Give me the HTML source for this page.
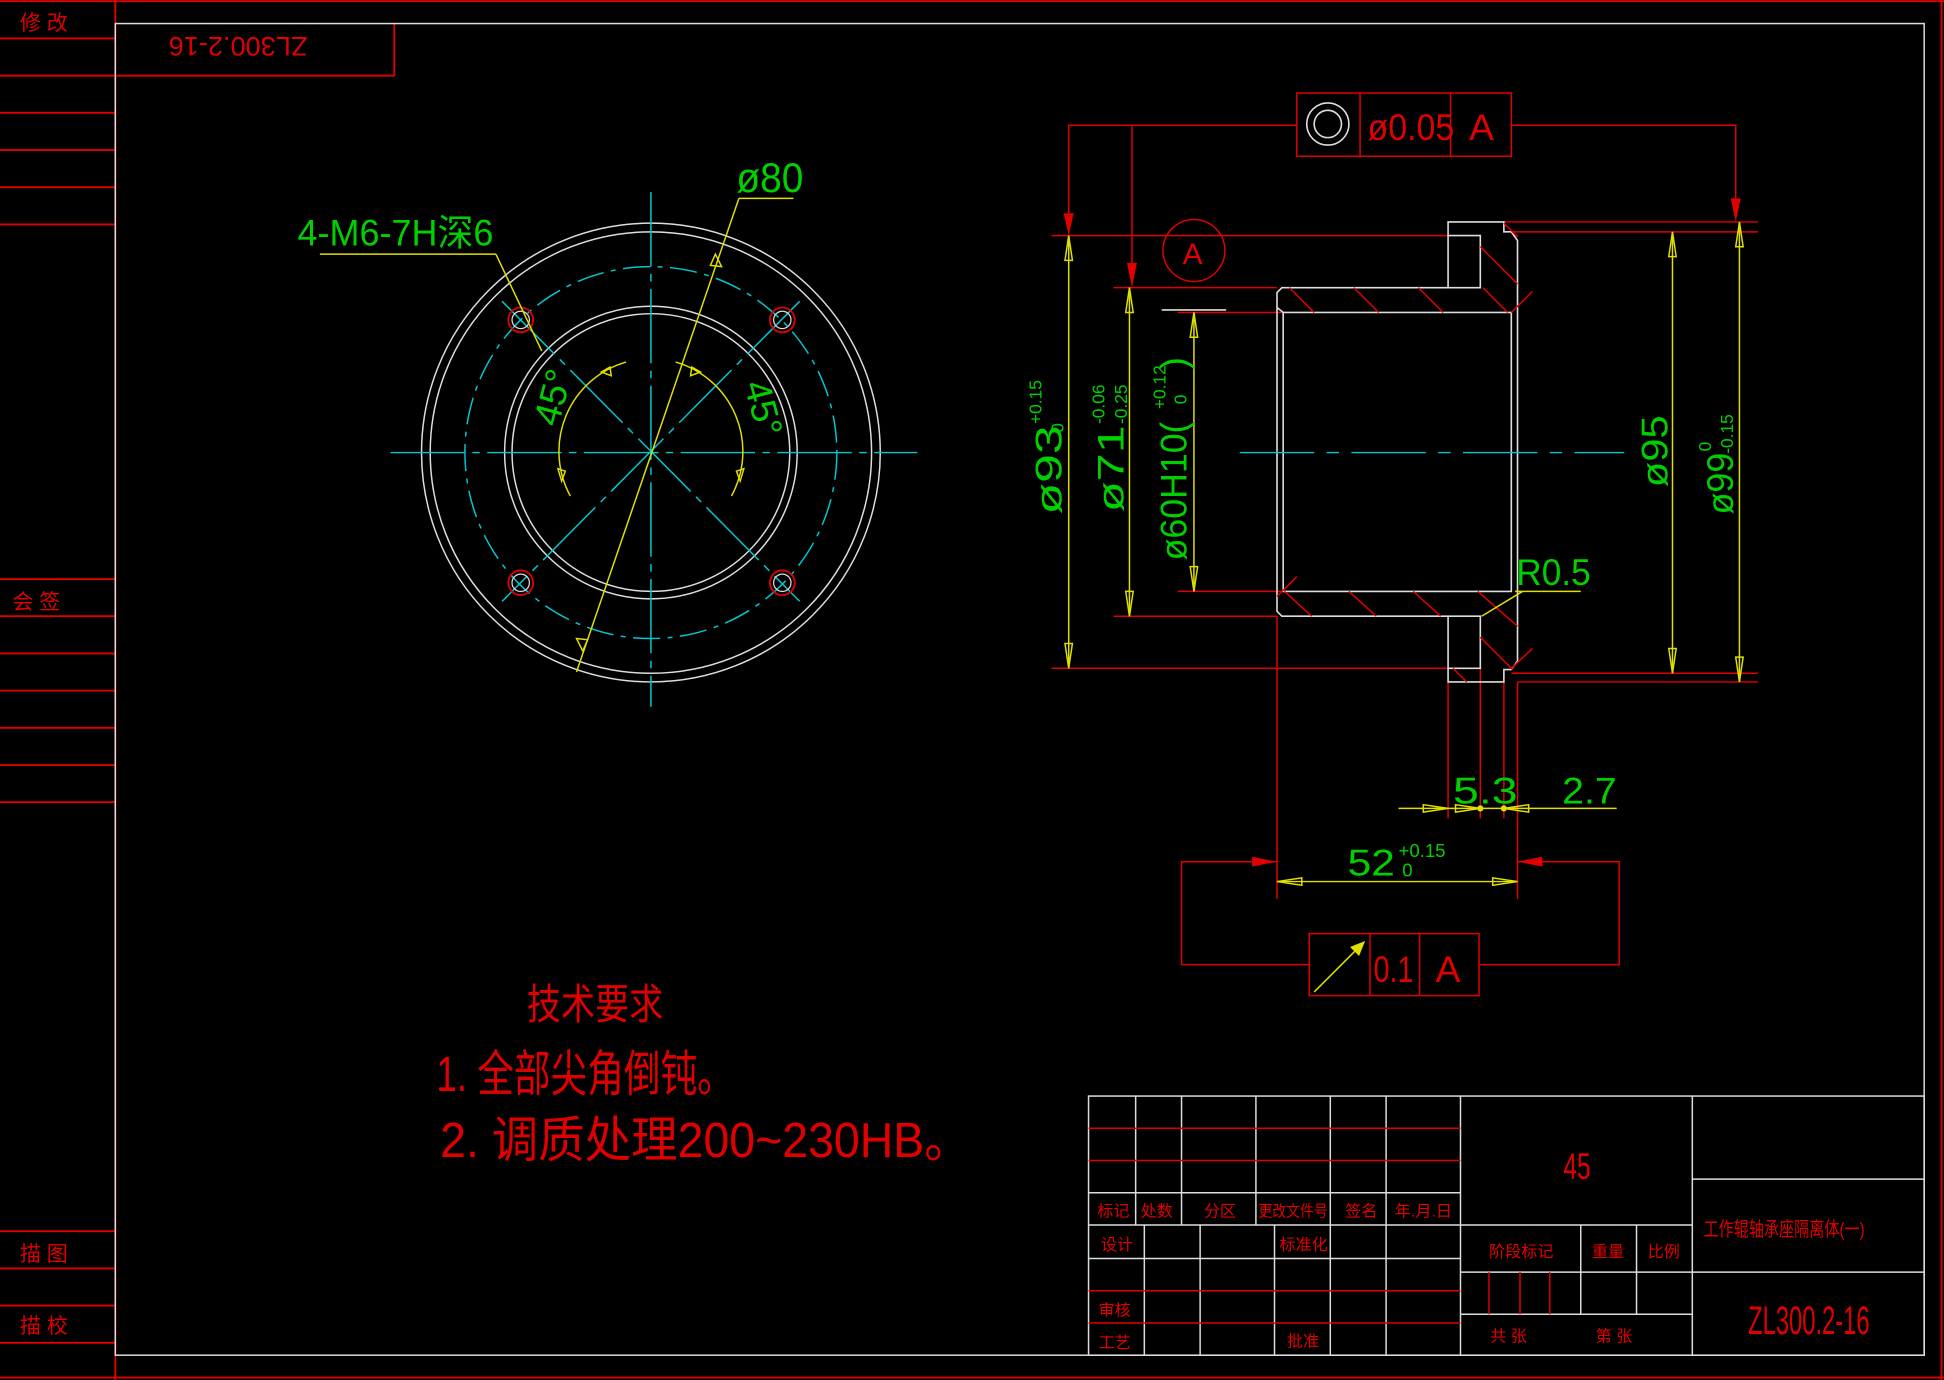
<!DOCTYPE html>
<html><head><meta charset="utf-8"><style>
html,body{margin:0;padding:0;background:#000;}
svg{display:block;}
text{font-family:"Liberation Sans","Noto Sans CJK SC",sans-serif;}
</style></head><body>
<svg width="1944" height="1380" viewBox="0 0 1568 1113" preserveAspectRatio="none" xmlns="http://www.w3.org/2000/svg">
<rect width="1568" height="1113" fill="#000"/>
<g stroke="#e00000" stroke-width="1.5" fill="none">
<line x1="0" y1="1" x2="1568" y2="1"/>
<line x1="0" y1="1111" x2="1568" y2="1111"/>
<line x1="93" y1="0" x2="93" y2="1113"/>
<line x1="1566" y1="0" x2="1566" y2="1113"/>
<line x1="0" y1="31" x2="93" y2="31"/><line x1="0" y1="61" x2="93" y2="61"/>
<line x1="0" y1="91" x2="93" y2="91"/><line x1="0" y1="121" x2="93" y2="121"/>
<line x1="0" y1="151" x2="93" y2="151"/><line x1="0" y1="181" x2="93" y2="181"/>
<line x1="0" y1="467" x2="93" y2="467"/><line x1="0" y1="497" x2="93" y2="497"/>
<line x1="0" y1="527" x2="93" y2="527"/><line x1="0" y1="557" x2="93" y2="557"/>
<line x1="0" y1="587" x2="93" y2="587"/><line x1="0" y1="617" x2="93" y2="617"/>
<line x1="0" y1="647" x2="93" y2="647"/>
<line x1="0" y1="993" x2="93" y2="993"/><line x1="0" y1="1023" x2="93" y2="1023"/>
<line x1="0" y1="1053" x2="93" y2="1053"/><line x1="0" y1="1083" x2="93" y2="1083"/>
<polyline points="93,61 318,61 318,19"/>
</g>
<g fill="#e00000" font-size="17">
<text x="16" y="24">修  改</text>
<text x="10" y="491">会  签</text>
<text x="16" y="1017">描  图</text>
<text x="16" y="1075">描  校</text>
<text transform="translate(192,30) rotate(180)" font-size="22" text-anchor="middle" textLength="112" lengthAdjust="spacingAndGlyphs">ZL300.2-16</text>
</g>
<rect x="93" y="19" width="1459" height="1074" fill="none" stroke="#ddd" stroke-width="1.2"/>

<g fill="none" stroke="#ddd" stroke-width="1.2">
<circle cx="525" cy="365" r="185"/><circle cx="525" cy="365" r="178"/>
<circle cx="525" cy="365" r="118"/><circle cx="525" cy="365" r="112"/>
</g>
<g fill="none" stroke="#00c8d0" stroke-width="1.2">
<circle cx="525" cy="365" r="150" stroke-dasharray="22,6,4,6"/>
<line x1="315" y1="365" x2="740" y2="365" stroke-dasharray="60,6,6,6"/>
<line x1="525" y1="155" x2="525" y2="570" stroke-dasharray="60,6,6,6"/>
<line x1="405" y1="243" x2="645" y2="485" stroke-dasharray="60,6,6,6"/>
<line x1="645" y1="243" x2="405" y2="485" stroke-dasharray="60,6,6,6"/>
</g>
<g fill="none">
<circle cx="420" cy="258" r="10" stroke="#e00000" stroke-width="1.5"/><circle cx="420" cy="258" r="7" stroke="#ddd"/>
<circle cx="631" cy="258" r="10" stroke="#e00000" stroke-width="1.5"/><circle cx="631" cy="258" r="7" stroke="#ddd"/>
<circle cx="420" cy="470" r="10" stroke="#e00000" stroke-width="1.5"/><circle cx="420" cy="470" r="7" stroke="#ddd"/>
<circle cx="631" cy="470" r="10" stroke="#e00000" stroke-width="1.5"/><circle cx="631" cy="470" r="7" stroke="#ddd"/>
</g>
<g fill="none" stroke="#e0e000" stroke-width="1.2">
<line x1="465" y1="542" x2="596" y2="160"/><line x1="596" y1="160" x2="640" y2="160"/>
<line x1="258" y1="205" x2="400" y2="205"/><line x1="400" y1="205" x2="437" y2="283"/>
<path d="M 460 400 A 75 75 0 0 1 505 292"/>
<path d="M 590 400 A 75 75 0 0 0 545 292"/>
<polygon points="577,205 582,215 573,214"/>
<polygon points="470,525 465,515 474,516"/>
<polygon points="450,378 456,380 453,388"/>
<polygon points="600,378 594,380 597,388"/>
<polygon points="485,300 492,296 493,303"/>
<polygon points="565,300 558,296 557,303"/>
</g>
<g fill="#00d000" font-size="34">
<text x="594" y="155" textLength="54" lengthAdjust="spacingAndGlyphs">ø80</text>
<text x="240" y="198" font-size="30" textLength="158" lengthAdjust="spacingAndGlyphs">4-M6-7H深6</text>
<text transform="translate(450,345) rotate(-75)" font-size="30">45°</text>
<text transform="translate(600,310) rotate(75)" font-size="30">45°</text>
</g>

<g stroke="#e00000" stroke-width="1.2" fill="none">
<polyline points="862,185 862,101 1046,101"/>
<polyline points="1219,101 1400,101 1400,175"/>
<line x1="913" y1="101" x2="913" y2="225"/>
<line x1="848" y1="190" x2="1168" y2="190"/>
<line x1="898" y1="232" x2="1030" y2="232"/>
<line x1="950" y1="252" x2="1035" y2="252"/>
<line x1="950" y1="477" x2="1035" y2="477"/>
<line x1="898" y1="497" x2="1030" y2="497"/>
<line x1="848" y1="539" x2="1168" y2="539"/>
<line x1="1213" y1="179" x2="1418" y2="179"/>
<line x1="1219" y1="187" x2="1418" y2="187"/>
<line x1="1219" y1="543" x2="1418" y2="543"/>
<line x1="1224" y1="550" x2="1418" y2="550"/>
<line x1="1030" y1="497" x2="1030" y2="725"/>
<line x1="1168" y1="550" x2="1168" y2="660"/>
<line x1="1194" y1="539" x2="1194" y2="660"/>
<line x1="1213" y1="550" x2="1213" y2="660"/>
<line x1="1224" y1="550" x2="1224" y2="725"/>
<polyline points="1030,695 953,695 953,778 1056,778"/>
<polyline points="1224,695 1306,695 1306,778 1193,778"/>
<circle cx="963" cy="202" r="25"/>
<rect x="1046" y="75" width="173" height="51"/>
<line x1="1097" y1="75" x2="1097" y2="126"/><line x1="1170" y1="75" x2="1170" y2="126"/>
<rect x="1056" y="753" width="137" height="50"/>
<line x1="1105" y1="753" x2="1105" y2="803"/><line x1="1145" y1="753" x2="1145" y2="803"/>
</g>
<g fill="#e00000">
<polygon points="858,172 866,172 862,190"/>
<polygon points="909,212 917,212 913,232"/>
<polygon points="1396,160 1404,160 1400,179"/>
<polygon points="1010,691 1010,699 1030,695"/>
<polygon points="1244,691 1244,699 1224,695"/>
</g>
<g fill="none" stroke="#ddd" stroke-width="1.3">
<circle cx="1071" cy="100" r="17"/><circle cx="1071" cy="100" r="11"/>
<line x1="937" y1="250" x2="989" y2="250"/>
<polyline points="1168,232 1168,179 1213,179 1213,187 1219,187 1224,194 1224,533 1219,540 1213,540 1213,550 1168,550 1168,497"/>
<polyline points="1168,232 1034,232 1030,236 1030,493 1034,497 1168,497"/>
<rect x="1035" y="252" width="184" height="225"/>
<polyline points="1168,190 1194,190 1194,232 1168,232"/>
<polyline points="1168,497 1194,497 1194,539 1168,539"/>
<line x1="1030" y1="248" x2="1035" y2="252"/>
</g>
<g stroke="#e00000" stroke-width="1.2">
<line x1="1040" y1="232" x2="1060" y2="252"/><line x1="1092" y1="232" x2="1112" y2="252"/>
<line x1="1144" y1="232" x2="1164" y2="252"/><line x1="1196" y1="232" x2="1216" y2="252"/>
<line x1="1213" y1="180" x2="1224" y2="191"/><line x1="1194" y1="199" x2="1224" y2="229"/>
<line x1="1219" y1="252" x2="1236" y2="235"/>
<line x1="1030" y1="481" x2="1046" y2="465"/>
<line x1="1036" y1="477" x2="1058" y2="497"/><line x1="1088" y1="477" x2="1110" y2="497"/>
<line x1="1140" y1="477" x2="1162" y2="497"/><line x1="1192" y1="477" x2="1224" y2="505"/>
<line x1="1194" y1="514" x2="1220" y2="540"/><line x1="1219" y1="539" x2="1236" y2="523"/>
<line x1="1172" y1="539" x2="1183" y2="550"/>
</g>
<line x1="1000" y1="365" x2="1310" y2="365" stroke="#00c8d0" stroke-width="1.2" stroke-dasharray="60,10,10,10"/>
<g stroke="#e0e000" stroke-width="1.2" fill="none">
<line x1="862" y1="190" x2="862" y2="539"/>
<line x1="911" y1="232" x2="911" y2="497"/>
<line x1="963" y1="252" x2="963" y2="477"/>
<line x1="1349" y1="187" x2="1349" y2="543"/>
<line x1="1403" y1="179" x2="1403" y2="550"/>
<line x1="1030" y1="711" x2="1224" y2="711"/>
<line x1="1128" y1="652" x2="1304" y2="652"/>
<line x1="1222" y1="477" x2="1275" y2="477"/>
<line x1="1195" y1="497" x2="1228" y2="477"/>
<line x1="1060" y1="800" x2="1100" y2="760"/>
<polygon points="859,210 865,210 862,190"/><polygon points="859,519 865,519 862,539"/>
<polygon points="908,252 914,252 911,232"/><polygon points="908,477 914,477 911,497"/>
<polygon points="960,272 966,272 963,252"/><polygon points="960,457 966,457 963,477"/>
<polygon points="1346,207 1352,207 1349,187"/><polygon points="1346,523 1352,523 1349,543"/>
<polygon points="1400,199 1406,199 1403,179"/><polygon points="1400,530 1406,530 1403,550"/>
<polygon points="1050,708 1050,714 1030,711"/><polygon points="1204,708 1204,714 1224,711"/>
<polygon points="1148,649 1148,655 1168,652"/><polygon points="1174,649 1174,655 1194,652"/>
<polygon points="1233,649 1233,655 1213,652"/>
<polygon points="1100,760 1090,764 1096,770" fill="#e0e000"/>
</g>
<circle cx="1194" cy="652" r="2.5" fill="#e0e000"/><circle cx="1213" cy="652" r="2.5" fill="#e0e000"/>
<g fill="#00d000" font-size="30">
<text transform="translate(856,415) rotate(-90)" textLength="72" lengthAdjust="spacingAndGlyphs">ø93</text>
<text transform="translate(840,342) rotate(-90)" font-size="14">+0.15</text>
<text transform="translate(858,349) rotate(-90)" font-size="14">0</text>
<text transform="translate(906,413) rotate(-90)" textLength="70" lengthAdjust="spacingAndGlyphs">ø71</text>
<text transform="translate(891,342) rotate(-90)" font-size="14">-0.06</text>
<text transform="translate(909,342) rotate(-90)" font-size="14">-0.25</text>
<text transform="translate(957,452) rotate(-90)" textLength="112" lengthAdjust="spacingAndGlyphs">ø60H10(</text>
<text transform="translate(940,330) rotate(-90)" font-size="14">+0.12</text>
<text transform="translate(957,326) rotate(-90)" font-size="14">0</text>
<text transform="translate(957,298) rotate(-90)">)</text>
<text transform="translate(1345,393) rotate(-90)" textLength="58" lengthAdjust="spacingAndGlyphs">ø95</text>
<text transform="translate(1398,415) rotate(-90)" textLength="50" lengthAdjust="spacingAndGlyphs">ø99</text>
<text transform="translate(1380,364) rotate(-90)" font-size="14">0</text>
<text transform="translate(1398,366) rotate(-90)" font-size="14">-0.15</text>
<text x="1223" y="472" textLength="60" lengthAdjust="spacingAndGlyphs">R0.5</text>
<text x="1172" y="648" textLength="52" lengthAdjust="spacingAndGlyphs">5.3</text>
<text x="1260" y="648" textLength="44" lengthAdjust="spacingAndGlyphs">2.7</text>
<text x="1087" y="706" textLength="38" lengthAdjust="spacingAndGlyphs">52</text>
<text x="1128" y="691" font-size="15">+0.15</text>
<text x="1131" y="707" font-size="15">0</text>
</g>
<g fill="#e00000" font-size="30">
<text x="1103" y="113" textLength="70" lengthAdjust="spacingAndGlyphs">ø0.05</text>
<text x="1185" y="113">A</text>
<text x="954" y="213" font-size="24">A</text>
<text x="1108" y="792" textLength="32" lengthAdjust="spacingAndGlyphs">0.1</text>
<text x="1158" y="792">A</text>
</g>

<g fill="#e00000">
<text x="425" y="822" font-size="34" textLength="110" lengthAdjust="spacingAndGlyphs">技术要求</text>
<text x="352" y="880" font-size="40" textLength="240" lengthAdjust="spacingAndGlyphs">1. 全部尖角倒钝。</text>
<text x="355" y="933" font-size="40" textLength="428" lengthAdjust="spacingAndGlyphs">2. 调质处理200~230HB。</text>
</g>

<g stroke="#ddd" stroke-width="1.2" fill="none">
<rect x="878" y="884" width="674" height="209"/>
<line x1="878" y1="962" x2="1178" y2="962"/>
<line x1="878" y1="988" x2="1365" y2="988"/>
<line x1="878" y1="1015" x2="1178" y2="1015"/>
<line x1="916" y1="884" x2="916" y2="988"/><line x1="953" y1="884" x2="953" y2="988"/>
<line x1="1013" y1="884" x2="1013" y2="988"/><line x1="1073" y1="884" x2="1073" y2="1093"/>
<line x1="1118" y1="884" x2="1118" y2="1093"/><line x1="1178" y1="884" x2="1178" y2="1093"/>
<line x1="923" y1="988" x2="923" y2="1093"/><line x1="968" y1="988" x2="968" y2="1093"/>
<line x1="1028" y1="988" x2="1028" y2="1093"/>
<line x1="1365" y1="884" x2="1365" y2="1093"/>
<line x1="1365" y1="951" x2="1552" y2="951"/><line x1="1365" y1="1026" x2="1552" y2="1026"/>
<line x1="1178" y1="1026" x2="1365" y2="1026"/><line x1="1178" y1="1060" x2="1365" y2="1060"/>
<line x1="1275" y1="988" x2="1275" y2="1060"/><line x1="1320" y1="988" x2="1320" y2="1060"/>
</g>
<g stroke="#e00000" stroke-width="1.2">
<line x1="878" y1="910" x2="1178" y2="910"/><line x1="878" y1="936" x2="1178" y2="936"/>
<line x1="878" y1="1041" x2="1178" y2="1041"/><line x1="878" y1="1067" x2="1178" y2="1067"/>
<line x1="1201" y1="1026" x2="1201" y2="1060"/><line x1="1226" y1="1026" x2="1226" y2="1060"/>
<line x1="1250" y1="1026" x2="1250" y2="1060"/>
</g>
<g fill="#e00000" font-size="13">
<text x="885" y="981">标记</text><text x="920" y="981">处数</text><text x="971" y="981">分区</text>
<text x="1015" y="981" textLength="56" lengthAdjust="spacingAndGlyphs">更改文件号</text>
<text x="1085" y="981">签名</text><text x="1125" y="981">年.月.日</text>
<text x="888" y="1008">设计</text><text x="1032" y="1008">标准化</text>
<text x="886" y="1061">审核</text><text x="886" y="1087">工艺</text><text x="1038" y="1086">批准</text>
<text x="1201" y="1014">阶段标记</text><text x="1284" y="1014">重量</text><text x="1329" y="1014">比例</text>
<text x="1202" y="1082">共    张</text><text x="1287" y="1082">第    张</text>
<text x="1374" y="997" font-size="16" textLength="130" lengthAdjust="spacingAndGlyphs">工作辊轴承座隔离体(一)</text>
<text x="1261" y="951" font-size="30" textLength="22" lengthAdjust="spacingAndGlyphs">45</text>
<text x="1410" y="1076" font-size="32" textLength="98" lengthAdjust="spacingAndGlyphs">ZL300.2-16</text>
</g>
</svg>
</body></html>
